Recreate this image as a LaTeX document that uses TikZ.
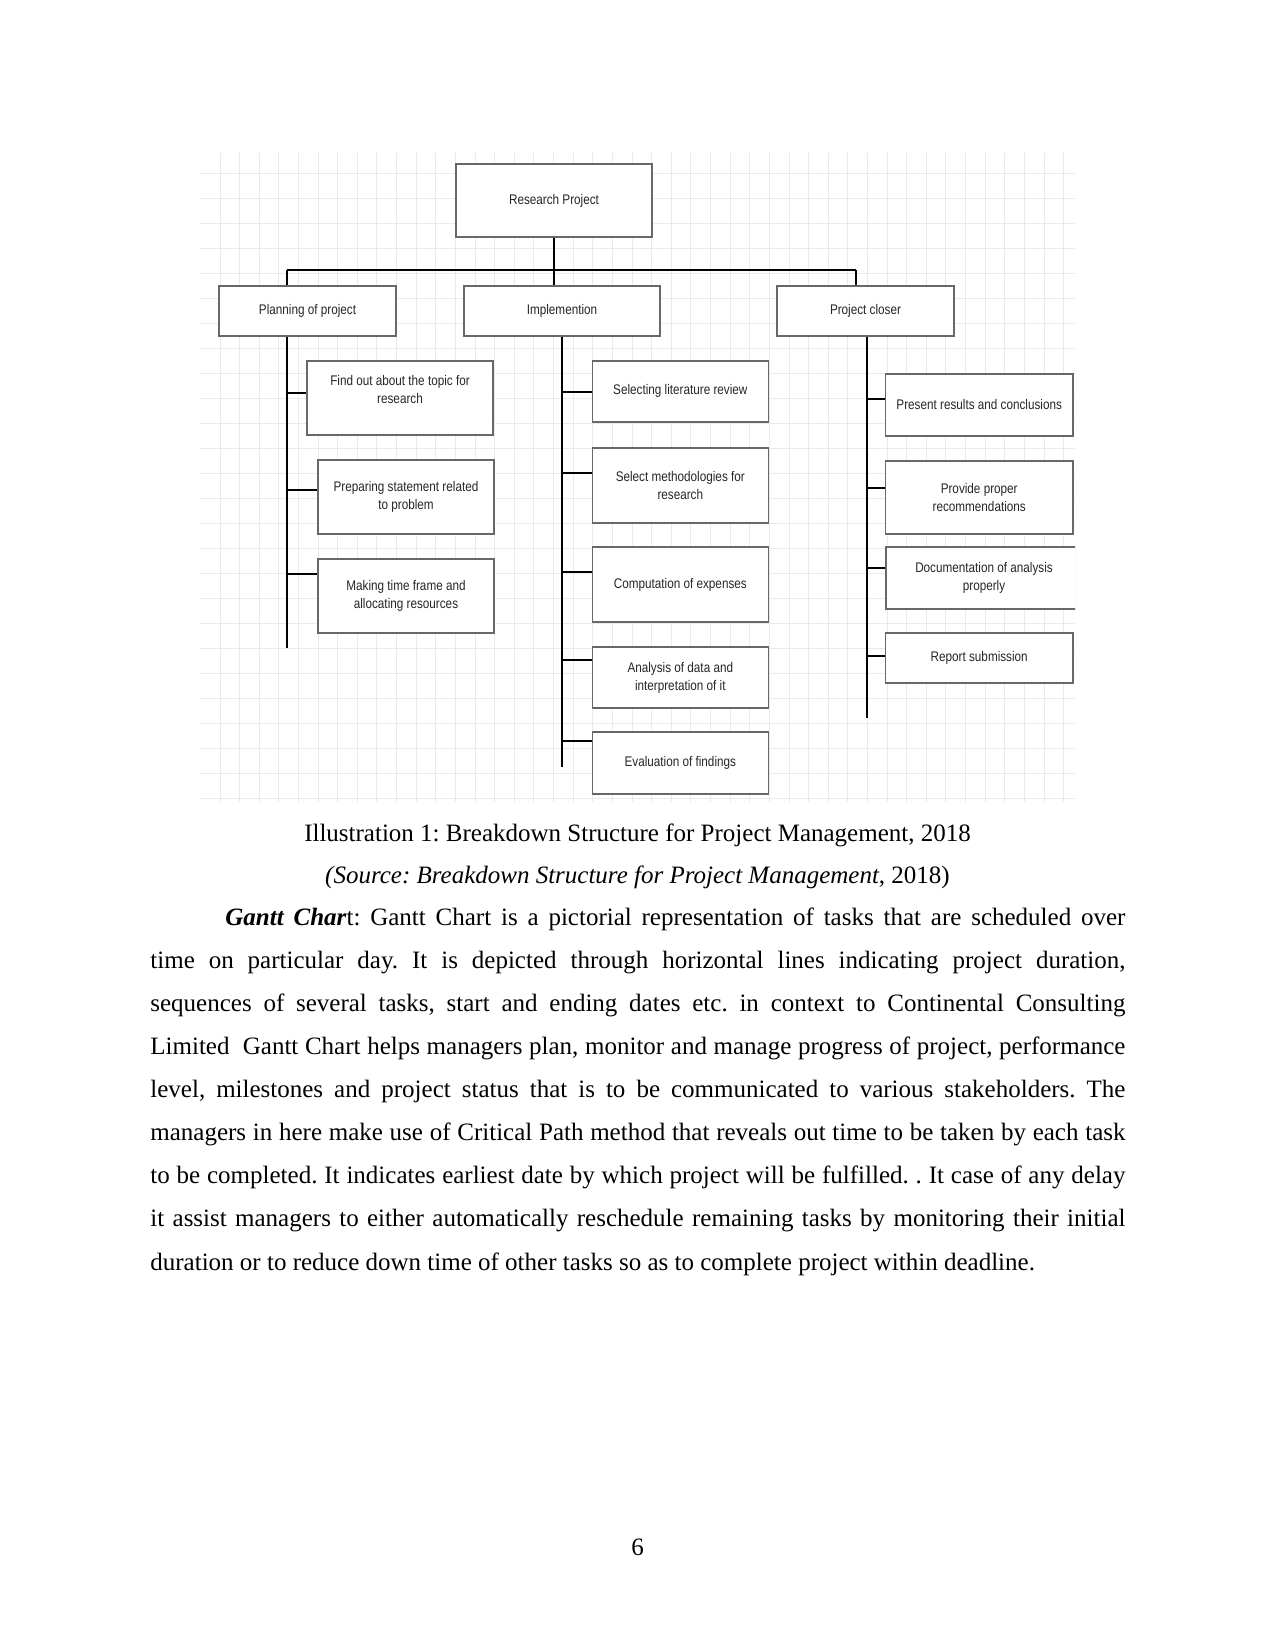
\documentclass[tikz,border=0pt]{standalone}
\usepackage{fontspec}
\setmainfont{Liberation Serif}
\newfontfamily\wbsfont[FakeStretch=0.84]{Liberation Sans}
\usepackage{xcolor}
\usepackage{tikz}
\usetikzlibrary{positioning,calc,shadows}
\definecolor{wgrid}{HTML}{E9EAEF}
\definecolor{wedge}{HTML}{686868}
\definecolor{wtext}{HTML}{262626}

\begin{document}
\begin{tikzpicture}[x=0.48pt,y=-0.48pt,
    wbsbox/.style 2 args={draw=wedge,fill=white,line width=0.75pt,
      minimum width=#1*0.48pt,minimum height=#2*0.48pt,inner sep=1pt,
      align=center,text=wtext,font=\wbsfont\fontsize{6.7}{8.6}\selectfont,
      drop shadow={shadow xshift=0.2pt,shadow yshift=-0.7pt,fill=black!50}},
    link/.style={line width=1pt},
    spine/.style={line width=1.3pt},
    body/.style={font=\fontsize{12}{20.7}\selectfont\frenchspacing,inner sep=0pt}]

      \useasboundingbox (0,0) rectangle (1275,1650);
      \fill[white] (0,0) rectangle (1275,1650);

      \begin{scope}
      \clip (200,153) rectangle (1075,802);

      % grid paper
      \foreach \gx in {220,239.62,...,1075} \draw[wgrid,line width=0.45pt] (\gx,153) -- (\gx,802);
      \foreach \gy in {173.5,198.5,...,802} \draw[wgrid,line width=0.45pt] (200,\gy) -- (1075,\gy);

      % top level
      \node[wbsbox={196}{73}] (root) at (554,200.5) {Research Project};
      \node[wbsbox={177}{50}] (plan) at (307.5,311) {Planning of project};
      \node[wbsbox={196}{50}] (impl) at (562,311) {Implemention};
      \node[wbsbox={177}{50}] (close) at (865.5,311) {Project closer};

      % planning tasks
      \node[wbsbox={186}{74}] (a1) at (400,398) {Find out about the topic for\\research\\\mbox{}};
      \node[wbsbox={176}{74}] (a2) at (406,497) {Preparing statement related\\to problem};
      \node[wbsbox={176}{74}] (a3) at (406,596) {Making time frame and\\allocating resources};

      % implementation tasks
      \node[wbsbox={176}{61}] (b1) at (680.3,391.3) {Selecting literature review};
      \node[wbsbox={176}{75}] (b2) at (680.3,485.5) {Select methodologies for\\research};
      \node[wbsbox={176}{75}] (b3) at (680.3,584.5) {Computation of expenses};
      \node[wbsbox={176}{61}] (b4) at (680.3,677.5) {Analysis of data and\\interpretation of it};
      \node[wbsbox={176}{62}] (b5) at (680.3,763) {Evaluation of findings};

      % closing tasks
      \node[wbsbox={187}{62}] (c1) at (979.2,404.8) {Present results and conclusions};
      \node[wbsbox={187}{73}] (c2) at (979.2,497.3) {Provide proper\\recommendations};
      \node[wbsbox={196}{62}] (c3) at (984,578) {Documentation of analysis\\properly};
      \node[wbsbox={187}{50}] (c4) at (979.2,658) {Report submission};

      % bus under the root
      \coordinate (pdrop) at (287,270);
      \coordinate (cdrop) at (856,270);
      \draw[link] (root.south) -- (root.south |- pdrop);
      \draw[link] (pdrop) -- (cdrop);
      \draw[link] (pdrop) -- (pdrop |- plan.north);
      \draw[link] (root.south |- pdrop) -- (root.south |- impl.north);
      \draw[link] (cdrop) -- (cdrop |- close.north);

      % spines
      \coordinate (pend) at (287,648);
      \coordinate (iend) at (562,767);
      \coordinate (cend) at (867,718);
      \draw[spine] (pend |- plan.south) -- (pend);
      \draw[spine] (iend |- impl.south) -- (iend);
      \draw[spine] (cend |- close.south) -- (cend);

      % ticks to the task boxes
      \foreach \n/\dy in {a1/-5,a2/-7,a3/-22}
        \draw[link] ($(\n.west)+(0,\dy)$) coordinate (tk) -- (tk -| pend);
      \foreach \n/\dy in {b1/1,b2/-12.5,b3/-12.5,b4/-17.5,b5/-22}
        \draw[link] ($(\n.west)+(0,\dy)$) coordinate (tk) -- (tk -| iend);
      \foreach \n/\dy in {c1/-6,c2/-9.6,c3/-10,c4/-2}
        \draw[link] ($(\n.west)+(0,\dy)$) coordinate (tk) -- (tk -| cend);
      \end{scope}

      % caption
      \node[body,anchor=base] (cap) at (637.5,841)
        {Illustration 1: Breakdown Structure for Project Management, 2018};
      \node[body,anchor=base] (src) at (637.5,883)
        {\textit{(Source: Breakdown Structure for Project Management}, 2018)};

      % paragraph
      \node[body,text width=468pt,align=justify,anchor=base west] (para) at (150,925) {%
        \hspace*{36pt}\textbf{\textit{Gantt Char}}t: Gantt Chart is a pictorial representation of tasks that are scheduled over\linebreak
        time on particular day. It is depicted through horizontal lines indicating project duration,\linebreak
        sequences of several tasks, start and ending dates etc. in context to Continental Consulting\linebreak
        Limited\ \ Gantt Chart helps managers plan, monitor and manage progress of project, performance\linebreak
        level, milestones and project status that is to be communicated to various stakeholders. The\linebreak
        managers in here make use of Critical Path method that reveals out time to be taken by each task\linebreak
        to be completed. It indicates earliest date by which project will be fulfilled. . It case of any delay\linebreak
        it assist managers to either automatically reschedule remaining tasks by monitoring their initial\linebreak
        duration or to reduce down time of other tasks so as to complete project within deadline.};

      % page number
      \node[body,anchor=base] (pgno) at (637.5,1555) {6};

\end{tikzpicture}
\end{document}
